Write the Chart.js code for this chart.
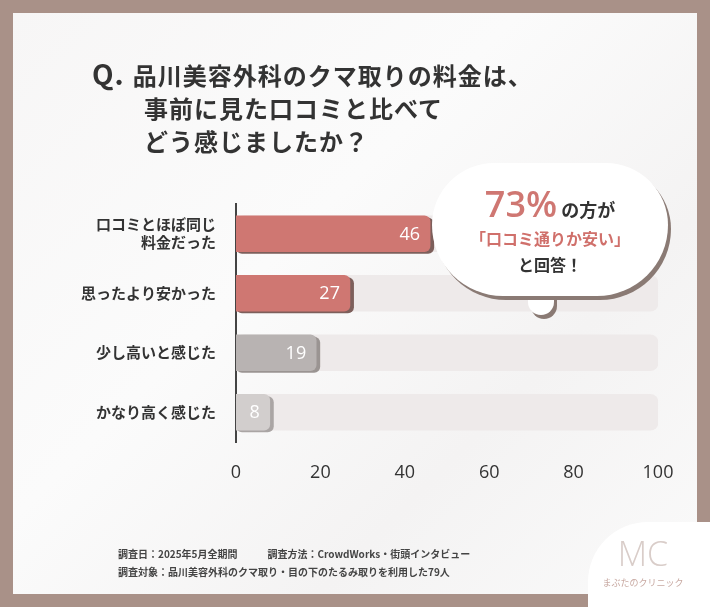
<!DOCTYPE html>
<html><head><meta charset="utf-8">
<script src="https://cdn.jsdelivr.net/npm/chart.js@4"></script>
<style>
body{margin:0;width:710px;height:607px;overflow:hidden;background:#a99188;font-family:"Noto Sans CJK JP","Noto Sans",sans-serif;}
#panel{position:absolute;left:13px;top:13px;width:684px;height:581px;background:linear-gradient(135deg,#f7f6f6,#fbfbfb 40%,#f4f3f3 70%,#fafafa);}
#c{position:absolute;left:0;top:0;}
#title{position:absolute;left:92px;top:57px;font-size:24px;font-weight:700;color:#333;line-height:33px;letter-spacing:1px;}
#title .q{font-size:28px;margin-right:8px;}
#title .ind{padding-left:52px;}
#bubble{position:absolute;left:432px;top:163px;width:236px;height:133px;background:#fff;border-radius:70px 70px 80px 80px;box-shadow:3px 4px 0 #8a7a74;text-align:center;}
#bubble .l1{margin-top:16px;font-size:18px;font-weight:700;color:#333;}
#bubble .l1 b{font-size:36px;color:#cf7772;font-family:"Open Sans",sans-serif;font-weight:600;}
#bubble .l2{font-size:16px;font-weight:700;color:#d0706b;margin-top:-2px;}
#bubble .l3{font-size:16px;font-weight:700;color:#333;margin-top:2px;}
#tail{position:absolute;left:528px;top:280px;width:26px;height:35px;background:#fff;box-shadow:3px 4px 0 #8a7a74;border-radius:0 0 14px 14px;}
#foot{position:absolute;left:118px;top:545px;font-size:10px;font-weight:700;color:#444;line-height:18px;}
#logo{position:absolute;left:588px;top:522px;width:140px;height:110px;background:#fff;border-radius:60px 0 0 0;text-align:center;}
#logo .mc{font-size:34px;color:#d9cdc9;font-family:"Open Sans";font-weight:300;margin-top:8px;margin-left:-30px;}
#logo .s{font-size:9px;color:#c8a9a2;margin-left:-30px;}
</style></head><body>
<div id="panel"></div>
<canvas id="c" width="710" height="607"></canvas>
<div id="title"><span class="q">Q.</span>品川美容外科のクマ取りの料金は、<br><span class="ind">事前に見た口コミと比べて</span><br><span class="ind">どう感じましたか？</span></div>
<div id="tail"></div>
<div id="bubble"><div class="l1"><b>73%</b> の方が</div><div class="l2">「口コミ通りか安い」</div><div class="l3">と回答！</div></div>
<div id="foot">調査日：2025年5月全期間　　　調査方法：CrowdWorks・街頭インタビュー<br>調査対象：品川美容外科のクマ取り・目の下のたるみ取りを利用した79人</div>
<div id="logo"><div class="mc">MC</div><div class="s">まぶたのクリニック</div></div>
<script>
const categories=[["口コミとほぼ同じ","料金だった"],"思ったより安かった","少し高いと感じた","かなり高く感じた"];
const values=[46,27,19,8];
const maxValues=[100,100,100,100];
const tickLabels=[0,20,40,60,80,100];
const barColors=["#cf7772","#cf7772","#b8b3b2","#d2cecd"];
const shadowColors=["#7d5f5b","#7d5f5b","#9a9492","#aaa5a4"];
const labelPlugin={id:"lbl",afterDatasetsDraw(ch){const ctx=ch.ctx;const m=ch.getDatasetMeta(1);ctx.save();ctx.fillStyle="#fff";ctx.font="18px 'Open Sans'";ctx.textAlign="right";ctx.textBaseline="middle";m.data.forEach((b,i)=>{ctx.fillText(values[i],b.x-10,b.y+1);});ctx.restore();}};
const shadowPlugin={id:"sh",beforeDatasetDraw(ch,a){if(a.index!==1)return;const ctx=ch.ctx;const m=ch.getDatasetMeta(1);ctx.save();m.data.forEach((b,i)=>{ctx.fillStyle=shadowColors[i];ctx.beginPath();ctx.roundRect(b.base,b.y-16,b.x-b.base+4,36,6);ctx.fill();});ctx.restore();}};
new Chart(document.getElementById("c"),{type:"bar",
data:{labels:categories,datasets:[
{data:maxValues,backgroundColor:"#eeeaea",borderRadius:8,borderSkipped:false,barThickness:36,grouped:false,order:2},
{data:values,backgroundColor:barColors,borderRadius:6,borderSkipped:"start",barThickness:36,grouped:false,order:1}]},
options:{indexAxis:"y",responsive:false,animation:false,events:[],
layout:{padding:{left:60,top:204,right:52,bottom:125}},
plugins:{legend:{display:false},tooltip:{enabled:false}},
scales:{x:{min:0,max:100,afterBuildTicks(s){s.ticks=tickLabels.map(v=>({value:v}));},grid:{display:false},border:{display:false},ticks:{color:"#333",font:{size:18,family:"'Open Sans'"},padding:12},afterFit(s){s.height=40;}},
y:{grid:{display:false},border:{color:"#444",width:2},ticks:{color:"#333",font:{size:15,weight:"bold",family:"'Noto Sans CJK JP'"},padding:12},afterFit(s){s.width=176;}}}},
plugins:[shadowPlugin,labelPlugin]});
</script></body></html>
